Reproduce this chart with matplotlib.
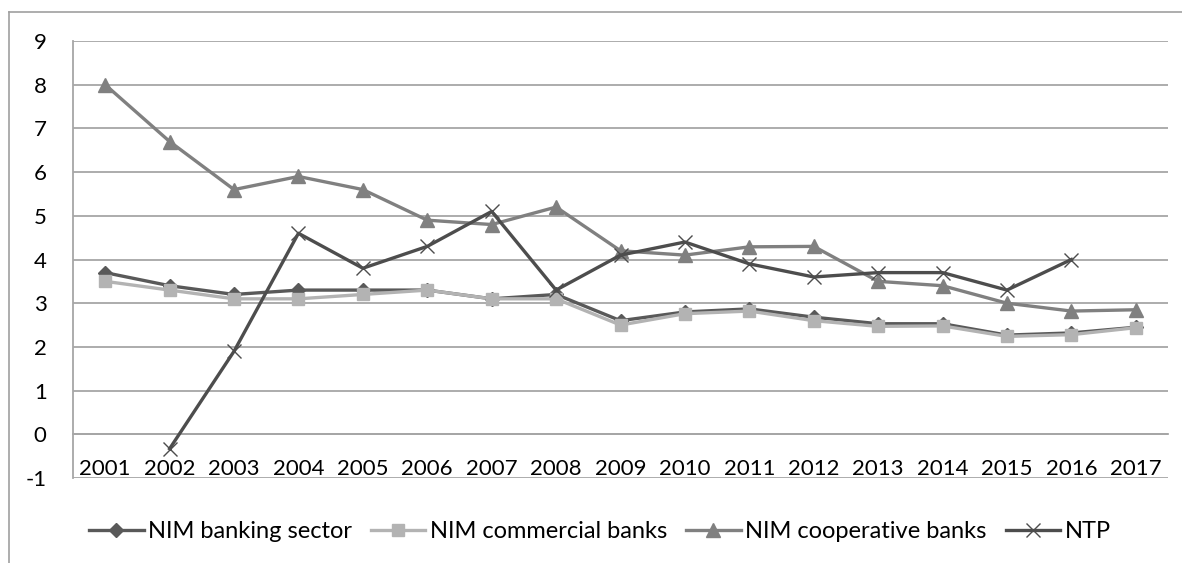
import matplotlib.pyplot as plt
from matplotlib.lines import Line2D

plt.rcParams['font.family'] = ['Lato', 'DejaVu Sans']
plt.rcParams['axes.unicode_minus'] = False

years = [str(y) for y in range(2001, 2018)]

nim_banking = [3.7, 3.4, 3.2, 3.3, 3.3, 3.3, 3.1, 3.2, 2.6, 2.8, 2.87, 2.68, 2.53, 2.53, 2.27, 2.32, 2.45]
nim_commercial = [3.5, 3.3, 3.1, 3.1, 3.2, 3.3, 3.1, 3.1, 2.5, 2.76, 2.82, 2.6, 2.47, 2.48, 2.24, 2.28, 2.44]
nim_cooperative = [8.0, 6.7, 5.6, 5.9, 5.6, 4.9, 4.8, 5.2, 4.2, 4.1, 4.29, 4.3, 3.5, 3.4, 3.0, 2.82, 2.85]
ntp = [None, -0.33, 1.9, 4.6, 3.8, 4.3, 5.1, 3.3, 4.1, 4.4, 3.9, 3.6, 3.7, 3.7, 3.3, 4.0, None]

W, H = 1182, 563
fig = plt.figure(figsize=(W / 100, H / 100), dpi=100)
ax = fig.add_axes([73 / W, (H - 478) / H, 1095 / W, 437 / H])

x = list(range(len(years)))
ntp_x = [i for i, v in zip(x, ntp) if v is not None]
ntp_y = [v for v in ntp if v is not None]

lw = 2.4
ax.plot(x, nim_banking, color='#595959', lw=lw, marker='D', ms=7, label='NIM banking sector', zorder=3)
ax.plot(x, nim_commercial, color='#b3b3b3', lw=lw, marker='s', ms=8.5, label='NIM commercial banks', zorder=4)
ax.plot(x, nim_cooperative, color='#808080', lw=lw, marker='^', ms=9.5, label='NIM cooperative banks', zorder=5)
ax.plot(ntp_x, ntp_y, color='#4d4d4d', lw=lw, marker='x', ms=9.5, mew=1.0, label='NTP', zorder=6)

grid_c = '#a6a6a6'
ax.set_xlim(-0.5, len(years) - 0.5)
ax.set_ylim(-1, 9)
ax.set_yticks(range(-1, 10))
ax.set_xticks(x)
ax.set_xticklabels(years)
ax.grid(axis='y', color=grid_c, lw=1.3)
ax.set_axisbelow(True)

for s in ['top', 'right']:
    ax.spines[s].set_visible(False)
ax.spines['left'].set_color(grid_c)
ax.spines['left'].set_linewidth(1.3)
# category labels sit on the zero line
ax.spines['bottom'].set_position(('data', 0))
ax.spines['bottom'].set_color(grid_c)
ax.spines['bottom'].set_linewidth(1.3)

ax.tick_params(axis='both', length=0, labelsize=16, colors='black')
ax.tick_params(axis='y', pad=19)
ax.tick_params(axis='x', pad=18)
for t in ax.get_yticklabels():
    t.set_horizontalalignment('right')

fig.legend(loc='center', bbox_to_anchor=(600 / W, 1 - 532 / H), ncol=4, frameon=False,
           fontsize=17, handlelength=2.3, handletextpad=0.2, columnspacing=0.8)

# outer chart border
bc = '#a0a0a0'
fig.add_artist(Line2D([9 / W, 1], [1 - 12 / H, 1 - 12 / H], color=bc, lw=1.2))
fig.add_artist(Line2D([9 / W, 9 / W], [1 - 12 / H, 0], color=bc, lw=1.2))

fig.savefig('out.png', dpi=100)
